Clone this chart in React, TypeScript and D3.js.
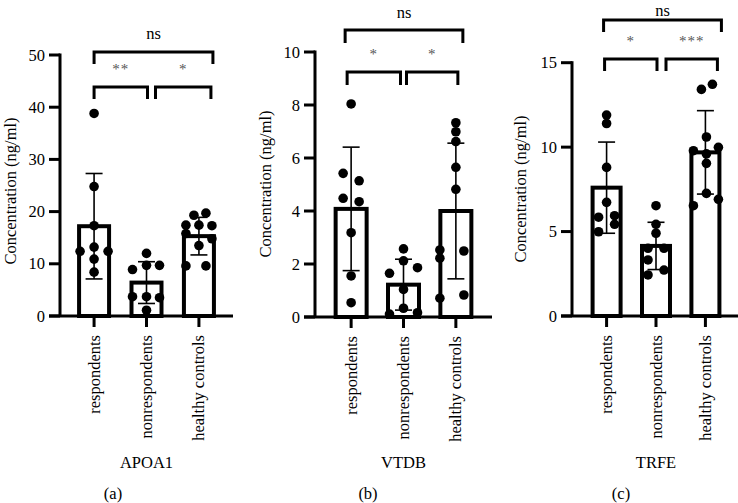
import React from "react";
import * as d3 from "d3";

const categories = ["respondents", "nonrespondents", "healthy controls"];

// Panel (a) APOA1
const apoaRespondents = [38.8, 24.8, 17.3, 13.2, 12.4, 12.4, 10.9, 8.4];
const apoaRespondentsJitter = [0, 0, 0, 0, -14, 14, 0, 0];
const apoaNonrespondents = [12.0, 9.7, 9.7, 8.9, 3.7, 3.7, 3.5, 1.1];
const apoaNonrespondentsJitter = [0, 0, 13, -14, -14, 0, 13, 0];
const apoaHealthy = [19.7, 19.3, 17.4, 17.4, 17.3, 15.8, 14.8, 13.5, 9.6, 9.6];
const apoaHealthyJitter = [7, -5, -13, 0, 13, -13, 13, 0, -13, 7];
const apoaMean = [17.2, 6.4, 15.3];
const apoaSD = [10.1, 4.0, 3.6];
const apoaTicks = [0, 10, 20, 30, 40, 50];

// Panel (b) VTDB
const vtdbRespondents = [8.04, 5.42, 5.14, 4.48, 4.35, 3.18, 1.55, 0.54];
const vtdbRespondentsJitter = [0, -8, 8, -8, 8, 0, 0, 0];
const vtdbNonrespondents = [2.57, 2.12, 1.65, 1.86, 1.04, 0.33, 0.11, 0.16];
const vtdbNonrespondentsJitter = [0, 0, -14, 14, 0, 0, -14, 14];
const vtdbHealthy = [7.33, 6.99, 6.62, 5.65, 4.82, 2.53, 2.22, 2.49, 0.71, 0.83];
const vtdbHealthyJitter = [0, 0, 0, 0, 0, -16, -16, 8, -16, 8];
const vtdbMean = [4.08, 1.22, 4.0];
const vtdbSD = [2.33, 0.96, 2.56];
const vtdbTicks = [0, 2, 4, 6, 8, 10];

// Panel (c) TRFE
const trfeRespondents = [11.9, 11.4, 8.8, 6.73, 5.94, 5.85, 5.43, 4.99];
const trfeRespondentsJitter = [0, 0, 0, 0, 8, -8, 8, -8];
const trfeNonrespondents = [6.53, 5.43, 4.9, 4.01, 4.01, 3.32, 2.72, 2.43];
const trfeNonrespondentsJitter = [0, 0, 0, -8, 8, -8, 8, -8];
const trfeHealthy = [13.72, 13.42, 10.6, 9.99, 9.79, 9.6, 9.04, 7.26, 6.91, 6.53];
const trfeHealthyJitter = [7, -4, 1, 13, -12, 1, 1, 1, 13, -12];
const trfeMean = [7.6, 4.15, 9.69];
const trfeSD = [2.7, 1.4, 2.47];
const trfeTicks = [0, 5, 10, 15];

const apoaBrackets = [
  { from: 0, to: 2, label: "ns" },
  { from: 0, to: 1, label: "**" },
  { from: 1, to: 2, label: "*" },
];
const vtdbBrackets = [
  { from: 0, to: 2, label: "ns" },
  { from: 0, to: 1, label: "*" },
  { from: 1, to: 2, label: "*" },
];
const trfeBrackets = [
  { from: 0, to: 2, label: "ns" },
  { from: 0, to: 1, label: "*" },
  { from: 1, to: 2, label: "***" },
];

const panelTitles = ["APOA1", "VTDB", "TRFE"];
const panelLetters = ["(a)", "(b)", "(c)"];

type Layout = {
  axisX: number;
  axisEnd: number;
  padding: number;
  y0: number;
  yTop: number;
  yMax: number;
  barW: number;
  titleY: number;
  letterX: number;
  labelX: number;
  labelY: number;
  topY: number;
  lowY: number;
  drop: number;
  nsGap: number;
  bOff: number[][];
};

const layouts: Layout[] = [
  {
    axisX: 60, axisEnd: 233, padding: 0.65, y0: 316, yTop: 55, yMax: 50, barW: 30,
    titleY: 462, letterX: 113, labelX: 10, labelY: 191, topY: 52, lowY: 87, drop: 12, nsGap: 19,
    bOff: [[0, 14], [0, 1], [9, 12]],
  },
  {
    axisX: 315, axisEnd: 492, padding: 0.69, y0: 317, yTop: 52, yMax: 10, barW: 31,
    titleY: 462, letterX: 368, labelX: 265, labelY: 184, topY: 30, lowY: 72, drop: 13, nsGap: 18,
    bOff: [[-6, 7], [-4, -3], [3, 2]],
  },
  {
    axisX: 572, axisEnd: 740, padding: 0.7, y0: 316, yTop: 62.7, yMax: 15, barW: 28,
    titleY: 462, letterX: 621, labelX: 520, labelY: 189, topY: 20, lowY: 59, drop: 12, nsGap: 10,
    bOff: [[-3, 16], [-2, 1], [10, 12]],
  },
];

const panels = [
  {
    values: [apoaRespondents, apoaNonrespondents, apoaHealthy],
    jitter: [apoaRespondentsJitter, apoaNonrespondentsJitter, apoaHealthyJitter],
    mean: apoaMean, sd: apoaSD, ticks: apoaTicks, brackets: apoaBrackets,
  },
  {
    values: [vtdbRespondents, vtdbNonrespondents, vtdbHealthy],
    jitter: [vtdbRespondentsJitter, vtdbNonrespondentsJitter, vtdbHealthyJitter],
    mean: vtdbMean, sd: vtdbSD, ticks: vtdbTicks, brackets: vtdbBrackets,
  },
  {
    values: [trfeRespondents, trfeNonrespondents, trfeHealthy],
    jitter: [trfeRespondentsJitter, trfeNonrespondentsJitter, trfeHealthyJitter],
    mean: trfeMean, sd: trfeSD, ticks: trfeTicks, brackets: trfeBrackets,
  },
];

const textStyle: React.CSSProperties = { fontFamily: "Liberation Serif" };

function Panel({ idx }: { idx: number }) {
  const L = layouts[idx];
  const P = panels[idx];
  const x = d3.scalePoint<string>().domain(categories).range([L.axisX, L.axisEnd]).padding(L.padding);
  const y = d3.scaleLinear().domain([0, L.yMax]).range([L.y0, L.yTop]);
  const tickLen = 11;
  const midX = x(categories[1]) as number;

  return (
    <g>
      {categories.map((c, i) => (
        <rect
          key={"bar" + i}
          x={(x(c) as number) - L.barW / 2}
          y={y(P.mean[i])}
          width={L.barW}
          height={y(0) - y(P.mean[i])}
          fill="white"
          stroke="black"
          strokeWidth={4}
        />
      ))}
      {categories.map((c, i) =>
        P.values[i].map((v, j) => (
          <circle
            key={"pt" + i + "-" + j}
            cx={(x(c) as number) + P.jitter[i][j]}
            cy={y(v)}
            r={4.8}
            fill="black"
          />
        ))
      )}
      {categories.map((c, i) => {
        const cx = x(c) as number;
        const hi = y(P.mean[i] + P.sd[i]);
        const lo = y(P.mean[i] - P.sd[i]);
        return (
          <g key={"err" + i} stroke="black" strokeWidth={1.6}>
            <line x1={cx} x2={cx} y1={hi} y2={lo} />
            <line x1={cx - 8.5} x2={cx + 8.5} y1={hi} y2={hi} />
            <line x1={cx - 8.5} x2={cx + 8.5} y1={lo} y2={lo} />
          </g>
        );
      })}
      <line x1={L.axisX} x2={L.axisX} y1={y(0)} y2={y(L.yMax) - 1.5} stroke="black" strokeWidth={3} />
      {P.ticks.map((t) => (
        <g key={"yt" + t}>
          <line x1={L.axisX - tickLen} x2={L.axisX} y1={y(t)} y2={y(t)} stroke="black" strokeWidth={3} />
          <text
            x={L.axisX - tickLen - 4}
            y={y(t)}
            textAnchor="end"
            dominantBaseline="central"
            style={textStyle}
            fontSize={16.5}
          >
            {t}
          </text>
        </g>
      ))}
      <line x1={L.axisX - tickLen} x2={L.axisEnd} y1={y(0)} y2={y(0)} stroke="black" strokeWidth={3} />
      {categories.map((c, i) => {
        const cx = x(c) as number;
        return (
          <g key={"xt" + i}>
            <line x1={cx} x2={cx} y1={y(0)} y2={y(0) + 11} stroke="black" strokeWidth={3} />
            <text
              transform={`translate(${cx},${y(0) + 19}) rotate(-90)`}
              textAnchor="end"
              dominantBaseline="central"
              style={textStyle}
              fontSize={16.5}
            >
              {c}
            </text>
          </g>
        );
      })}
      <text
        transform={`translate(${L.labelX},${L.labelY}) rotate(-90)`}
        textAnchor="middle"
        dominantBaseline="central"
        style={textStyle}
        fontSize={16.5}
      >
        Concentration (ng/ml)
      </text>
      {P.brackets.map((b, k) => {
        const off = L.bOff[k];
        const x1 = (x(categories[b.from]) as number) + off[0];
        const x2 = (x(categories[b.to]) as number) + off[1];
        const by = k === 0 ? L.topY : L.lowY;
        const isNs = b.label === "ns";
        return (
          <g key={"br" + k}>
            <path
              d={`M${x1},${by + L.drop} V${by} H${x2} V${by + L.drop}`}
              fill="none"
              stroke="black"
              strokeWidth={3}
            />
            {isNs ? (
              <text
                x={(x1 + x2) / 2}
                y={by - L.nsGap}
                textAnchor="middle"
                dominantBaseline="central"
                style={textStyle}
                fontSize={16.5}
              >
                {b.label}
              </text>
            ) : (
              <text
                x={(x1 + x2) / 2}
                y={by - 20 + 7}
                textAnchor="middle"
                style={textStyle}
                fontSize={15}
                fill="#555"
                letterSpacing={1}
              >
                {b.label}
              </text>
            )}
          </g>
        );
      })}
      <text x={midX} y={L.titleY} textAnchor="middle" dominantBaseline="central" style={textStyle} fontSize={16.5}>
        {panelTitles[idx]}
      </text>
      <text x={L.letterX} y={493} textAnchor="middle" dominantBaseline="central" style={textStyle} fontSize={16.5}>
        {panelLetters[idx]}
      </text>
    </g>
  );
}

export default function App() {
  return (
    <svg
      width={738}
      height={503}
      style={{ position: "absolute", left: 0, top: 0, background: "white" }}
    >
      <rect width={738} height={503} fill="white" />
      {[0, 1, 2].map((i) => (
        <Panel key={i} idx={i} />
      ))}
    </svg>
  );
}
